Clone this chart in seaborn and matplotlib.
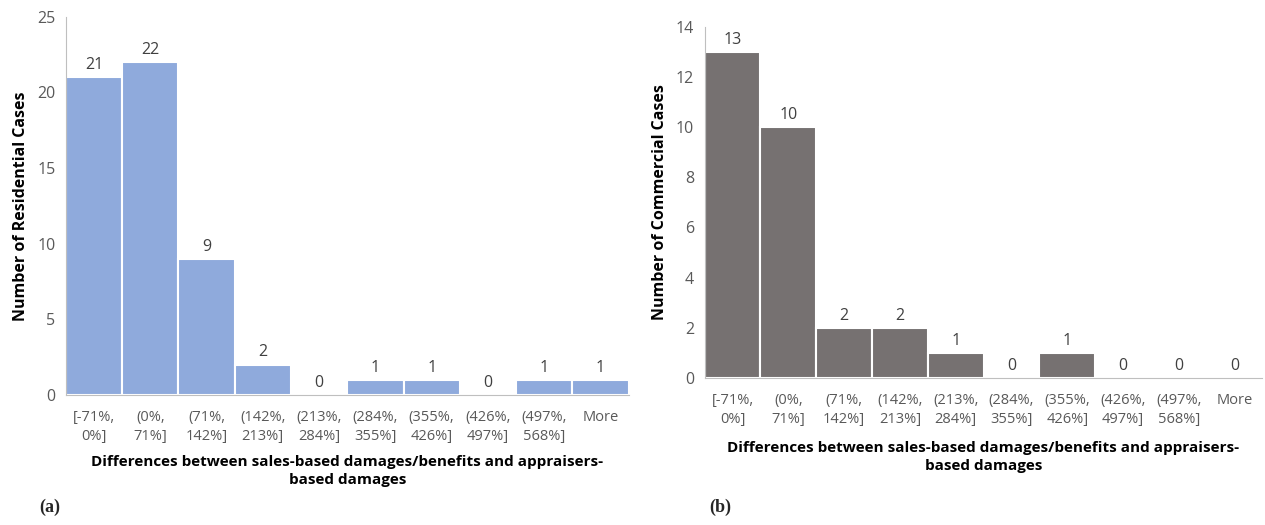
import numpy as np
import pandas as pd
import matplotlib
matplotlib.use('Agg')
import matplotlib.pyplot as plt
import seaborn as sns

bins = ['[-71%,\n0%]', '(0%,\n71%]', '(71%,\n142%]', '(142%,\n213%]', '(213%,\n284%]',
        '(284%,\n355%]', '(355%,\n426%]', '(426%,\n497%]', '(497%,\n568%]', 'More']
residential = [21, 22, 9, 2, 0, 1, 1, 0, 1, 1]
commercial = [13, 10, 2, 2, 1, 0, 1, 0, 0, 0]

xlab = 'Differences between sales-based damages/benefits and appraisers-\nbased damages'

sns.set_style('white')
plt.rcParams['font.family'] = ['Open Sans', 'DejaVu Sans']

def draw_hist(ax, counts, color, ylabel, ymax, ystep, xpad):
    df = pd.DataFrame({'bin': bins, 'count': counts})
    sns.barplot(x='bin', y='count', data=df, color=color, width=1.0,
                edgecolor='white', linewidth=1.5, saturation=1, ax=ax)
    ax.bar_label(ax.containers[0], padding=3, fontsize=11.5, color='#404040')
    ax.set_xlim(-0.5, len(bins) - 0.5)
    ax.set_ylim(0, ymax)
    ax.set_yticks(np.arange(0, ymax + 1, ystep))
    ax.set_xticks(np.arange(-0.5, len(bins), 1.0), minor=True)
    ax.tick_params(axis='x', which='major', length=0, pad=11, labelsize=10.5, labelcolor='#595959')
    ax.tick_params(axis='x', which='minor', length=5, color='#bfbfbf', direction='out')
    ax.tick_params(axis='y', length=4, color='#bfbfbf', labelsize=11.5, labelcolor='#595959', direction='out')
    for lbl in ax.get_xticklabels():
        lbl.set_linespacing(1.35)
    for s in ['top', 'right']:
        ax.spines[s].set_visible(False)
    for s in ['left', 'bottom']:
        ax.spines[s].set_color('#bfbfbf')
    ax.set_ylabel(ylabel, fontsize=11.5, fontweight='bold', color='black', labelpad=6)
    ax.set_xlabel(xlab, fontsize=11, fontweight='bold', color='black', labelpad=xpad, linespacing=1.4)

fig = plt.figure(figsize=(12.65, 5.25), dpi=100)
ax1 = fig.add_axes([0.052, 0.248, 0.445, 0.72])
ax2 = fig.add_axes([0.557, 0.28, 0.441, 0.669])

draw_hist(ax1, residential, '#8faadc', 'Number of Residential Cases', 25, 5, 8)
draw_hist(ax2, commercial, '#767171', 'Number of Commercial Cases', 14, 2, 10)

fig.text(0.031, 0.025, '(a)', fontsize=13, fontweight='bold', family=['Liberation Serif', 'DejaVu Serif'])
fig.text(0.561, 0.025, '(b)', fontsize=13, fontweight='bold', family=['Liberation Serif', 'DejaVu Serif'])

fig.savefig('out.png', dpi=100)
